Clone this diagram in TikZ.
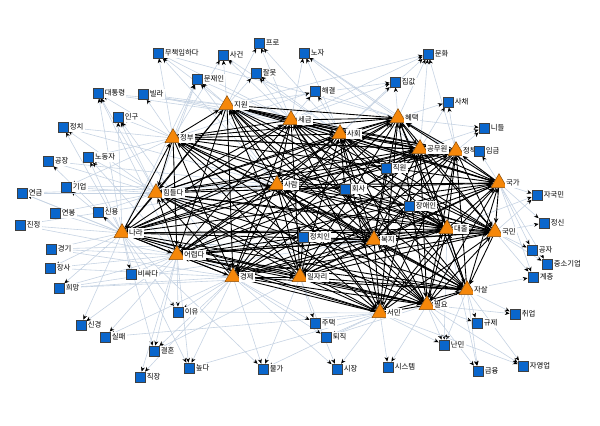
\documentclass[tikz,border=0pt]{standalone}
\usepackage{fontspec}
\setmainfont{Noto Sans CJK KR}
\usepackage{xcolor}
\usepackage{tikz}
\usetikzlibrary{positioning,arrows.meta,shapes.geometric,backgrounds}
\definecolor{hubc}{HTML}{F5870A}
\definecolor{wordc}{HTML}{0A66CC}
\definecolor{faint}{HTML}{C6D3E3}
\begin{document}
\begin{tikzpicture}[x=0.03cm, y=-0.03cm,
  hub/.style={regular polygon, regular polygon sides=3, fill=hubc, draw=hubc!55!black, minimum size=0.56cm, inner sep=0pt},
  word/.style={rectangle, fill=wordc, draw=black!75, minimum size=0.31cm, inner sep=0pt},
  lbl/.style={font=\fontsize{6.3}{7}\selectfont, fill=white, inner sep=1pt, text=black},
  strong/.style={black, line width=0.75pt, -{Stealth[length=4.5pt,width=3.8pt]}},
  weak/.style={faint, line width=0.5pt, -{Stealth[length=4pt,width=3.4pt,black]}}]
\useasboundingbox (0,0) rectangle (600,425);
\foreach \n/\x/\y/\txt in {jw/227/105/지원, sg/291/120/세금, sh/340/134/사회, ht/398/118/혜택, gmw/420/149/공무원, jc/456/151/정책, jb/173/138/정부, hd/156/193/힘들다, sr/277/185/사람, gg/499/183/국가, nr/122/233/나라, er/177/255/어렵다, bj/374/240/복지, dc/447/229/대출, gm/495/232/국민, gj/233/277/경제, ijr/300/277/일자리, js/467/290/자살, py/427/305/필요, sm/380/313/서민} \node[hub, label={[lbl]right:\txt}] (\n) at (\x,\y) {};
\foreach \n/\x/\y/\txt in {mch/158/53/무책임하다, sgn/223/55/사건, pr/259/43/프로, nj/304/53/노자, mh/428/54/문화, mji/197/79/문재인, jm/256/73/잘못, bl/143/94/빌라, dtr/98/93/대통령, jgp/395/82/집값, sch/448/102/사채, hg/315/91/해결, ig/118/117/인구, nd/484/128/니들, img/479/151/임금, jch/63/127/정치, gjg/48/161/공장, ndj/88/157/노동자, gu/66/187/기업, yg/22/193/연금, yb/55/213/연봉, sy/98/212/신용, jj/20/225/진정, gk/51/249/경기, jsa/50/268/장사, bsd/131/274/비싸다, hm/59/288/희망, iy/178/312/이유, sk/81/325/신경, sp/105/337/실패, gh/154/351/결혼, jjg/140/377/직장, np/189/368/높다, mg/263/369/물가, sjg/337/369/시장, sst/388/367/시스템, jt/315/323/주택, tj/326/337/퇴직, nm/444/345/난민, gje/477/323/규제, gy/478/371/금융, jyu/523/366/자영업, cu/515/314/취업, gc/533/277/계층, jsg/547/264/중소기업, gja/532/250/공자, jsn/544/223/정신, jgm/537/195/자국민, jci/303/237/정치인, hs/345/189/회사, jkw/386/168/직원, jai/409/206/장애인} \node[word, label={[lbl]right:\txt}] (\n) at (\x,\y) {};
\begin{pgfonlayer}{background}
\fill[white] (0,0) rectangle (600,425);
\foreach \w/\h in {mch/jb, mch/jw, mch/sg, mch/sr, mch/ht, sgn/jw, sgn/jb, sgn/sg, sgn/sh, pr/sg, pr/sh, pr/jw, nj/sg, nj/ht, nj/sh, nj/gg, nj/gmw, mh/ht, mh/gmw, mh/jc, mh/sh, mh/sg, mh/jw, mji/jb, mji/jw, mji/hd, mji/sg, mji/sr, mji/nr, jm/jw, jm/sg, jm/sh, bl/jb, bl/sg, bl/jw, bl/sh, dtr/jb, dtr/hd, dtr/nr, dtr/jw, dtr/er, dtr/sg, jgp/ht, jgp/sg, jgp/sh, jgp/jw, sch/ht, sch/gmw, sch/jc, hg/sg, hg/sh, hg/ht, hg/jb, ig/jb, ig/hd, ig/nr, ig/gj, nd/ht, nd/gmw, nd/jc, img/jc, img/gmw, img/gg, jch/jb, jch/hd, jch/nr, jch/sr, gjg/hd, gjg/nr, gjg/sr, ndj/hd, ndj/jb, ndj/nr, ndj/er, gu/hd, gu/nr, gu/jb, gu/sr, yg/hd, yg/nr, yg/er, yg/sr, yb/nr, yb/hd, sy/nr, sy/hd, jj/nr, jj/er, jj/sr, gk/nr, gk/er, gk/gj, gk/bj, jsa/nr, jsa/er, jsa/gj, bsd/nr, bsd/er, hm/nr, hm/er, hm/gj, hm/ijr, hm/bj, iy/er, iy/gj, iy/nr, iy/sm, sk/nr, sk/er, sp/er, sp/gj, sp/sm, gh/nr, gh/er, gh/gj, gh/ijr, jjg/gj, jjg/er, np/gj, np/er, np/nr, np/sm, mg/gj, mg/ijr, mg/sm, mg/nr, sjg/gj, sjg/ijr, sjg/sm, sst/sm, sst/py, jt/sm, jt/gj, jt/ijr, tj/sm, tj/py, tj/gj, nm/py, nm/js, nm/sm, nm/dc, gje/js, gje/py, gy/js, gy/py, gy/dc, jyu/js, jyu/py, jyu/sm, cu/js, cu/py, gc/gm, gc/gg, gc/js, jsg/gm, jsg/gg, gja/gm, gja/gg, jsn/gm, jsn/gg, jgm/gg, jgm/gm, jgm/dc} \draw[weak] (\h) -- (\w);
\def\hubs{jw,sg,sh,ht,gmw,jc,jb,hd,sr,gg,nr,er,bj,dc,gm,gj,ijr,js,py,sm}
\foreach \a [count=\i] in \hubs {\foreach \b [count=\j] in \hubs {\ifnum\j>\i \ifodd\numexpr\i+\j\relax \draw[strong] (\a) -- (\b); \else \draw[strong] (\b) -- (\a); \fi \fi}}
\foreach \w/\h in {hs/sr, hs/sh, hs/bj, hs/dc, jkw/gmw, jkw/sh, jkw/bj, jai/dc, jai/gm, jai/bj, jai/sr, jci/sr, jci/bj, jci/ijr, jci/er} \draw[strong] (\h) -- (\w);
\end{pgfonlayer}
\end{tikzpicture}
\end{document}
